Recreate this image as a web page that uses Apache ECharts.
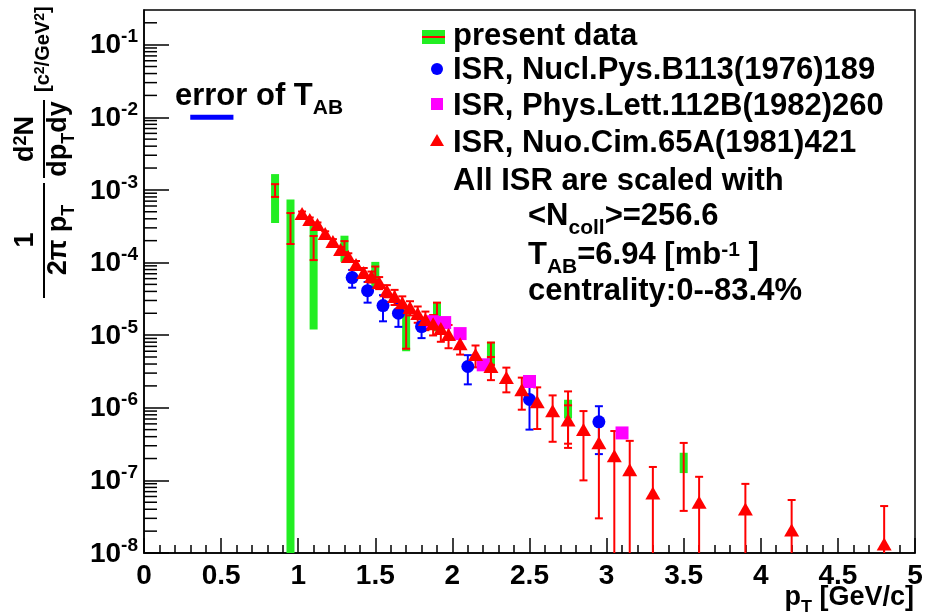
<!DOCTYPE html>
<html>
<head>
<meta charset="utf-8">
<title>pT spectra</title>
<script src="https://cdn.jsdelivr.net/npm/echarts@6.0.0/dist/echarts.min.js"></script>
<style>
  html, body { margin: 0; padding: 0; background: #fff; }
  #chart { width: 932px; height: 612px; }
</style>
</head>
<body>
<div id="chart"></div>
<script>
// ---- data ----
// present data: stat error (red bar) and syst error (green box)
var presentX    = [0.85, 0.95, 1.10, 1.30, 1.50, 1.70, 1.90, 2.25, 2.75, 3.50];
var presentY    = [1.0e-3, 3.3e-4, 1.7e-4, 1.68e-4, 7.3e-5, 1.5e-5, 2.0e-5, 5.9e-6, 1.0e-6, 1.83e-7];
var presentStat = [2.0e-4, 1.5e-4, 6.2e-5, 2.9e-5, 1.5e-5, 8.5e-6, 8.0e-6, 2.0e-6, 6.8e-7, 1.45e-7];
var presentSys  = [6.5e-4, 4.1e-4, 1.58e-4, 6.6e-5, 2.9e-5, 9.0e-6, 8.7e-6, 2.2e-6, 2.9e-7, 5.7e-8];

// ISR, Nucl.Pys.B113(1976)189
var nplX   = [1.35, 1.45, 1.55, 1.65, 1.80, 2.10, 2.50, 2.95];
var nplY   = [6.2e-5, 4.1e-5, 2.55e-5, 2.0e-5, 1.31e-5, 3.7e-6, 1.3e-6, 6.4e-7];
var nplErr = [1.7e-5, 1.3e-5, 1.0e-5, 7.0e-6, 4.0e-6, 1.6e-6, 8.0e-7, 4.1e-7];

// ISR, Phys.Lett.112B(1982)260
var plbX = [1.87, 1.95, 2.05, 2.20, 2.50, 3.10];
var plbY = [1.53e-5, 1.49e-5, 1.05e-5, 3.9e-6, 2.3e-6, 4.5e-7];

// ISR, Nuo.Cim.65A(1981)421
var ncX = [1.025, 1.075, 1.125, 1.175, 1.225, 1.275, 1.325, 1.375, 1.425, 1.475,
           1.525, 1.575, 1.625, 1.675, 1.725, 1.775, 1.825, 1.875, 1.925, 1.975,
           2.05, 2.15, 2.25, 2.35, 2.45, 2.55, 2.65, 2.75, 2.85, 2.95,
           3.05, 3.15, 3.30, 3.60, 3.90, 4.20, 4.80];
var ncY = [4.74e-4, 3.92e-4, 3.34e-4, 2.51e-4, 1.95e-4, 1.51e-4, 1.21e-4, 9.4e-5, 7.3e-5, 6.4e-5,
           5.3e-5, 4.1e-5, 3.4e-5, 2.8e-5, 2.4e-5, 1.98e-5, 1.64e-5, 1.44e-5, 1.23e-5, 1.02e-5,
           7.6e-6, 5.4e-6, 3.7e-6, 2.6e-6, 1.77e-6, 1.21e-6, 9.1e-7, 6.8e-7, 5.0e-7, 3.3e-7,
           2.18e-7, 1.4e-7, 6.7e-8, 5.0e-8, 4.05e-8, 2.07e-8, 1.33e-8];
var ncErr = [3.0e-5, 2.5e-5, 2.2e-5, 1.8e-5, 1.5e-5, 1.3e-5, 1.3e-5, 1.1e-5, 1.1e-5, 1.1e-5,
             1.0e-5, 7.8e-6, 8.0e-6, 6.2e-6, 5.3e-6, 5.0e-6, 4.7e-6, 4.5e-6, 4.2e-6, 3.6e-6,
             2.2e-6, 1.8e-6, 1.3e-6, 9.7e-7, 8.3e-7, 7.0e-7, 5.7e-7, 4.0e-7, 4.0e-7, 3.0e-7,
             2.6e-7, 2.1e-7, 8.6e-8, 6.2e-8, 4.9e-8, 3.3e-8, 3.1e-8];

// error of T_AB marker
var tabErrX = [0.30, 0.58];
var tabErrY = [1e-2, 1e-2];

// axes
var xMin = 0, xMax = 5, xStep = 0.5;
var yMin = 1e-8, yMax = 0.3;
var minorDecades = [-8, -7, -6, -5, -4, -3, -2, -1];
var minorSteps = [2, 3, 4, 5, 6, 7, 8, 9];

var GREEN = '#22ee22', RED = '#ff0000', BLUE = '#0000ff', MAGENTA = '#ff00ff';
var FONT = '"Liberation Sans", Arial, Helvetica, sans-serif';

var yMinorTicks = [];
minorDecades.forEach(function (d) {
  minorSteps.forEach(function (k) {
    var v = k * Math.pow(10, d);
    if (v < yMax) yMinorTicks.push([0, v]);
  });
});

function errBar(api, x, y, e, color, cap, width) {
  var hi = api.coord([x, y + e]);
  var clipped = y - e <= yMin;
  var lo = api.coord([x, clipped ? yMin : y - e]);
  var st = { stroke: color, lineWidth: width };
  var out = [
    { type: 'line', shape: { x1: hi[0], y1: hi[1], x2: lo[0], y2: lo[1] }, style: st },
    { type: 'line', shape: { x1: hi[0] - cap, y1: hi[1], x2: hi[0] + cap, y2: hi[1] }, style: st }
  ];
  if (!clipped) {
    out.push({ type: 'line', shape: { x1: lo[0] - cap, y1: lo[1], x2: lo[0] + cap, y2: lo[1] }, style: st });
  }
  return out;
}

var presentData = presentX.map(function (x, i) { return [x, presentY[i], presentStat[i], presentSys[i]]; });
var nplData = nplX.map(function (x, i) { return [x, nplY[i], nplErr[i]]; });
var plbData = plbX.map(function (x, i) { return [x, plbY[i]]; });
var ncData = ncX.map(function (x, i) { return [x, ncY[i], ncErr[i]]; });
var tabData = tabErrX.map(function (x, i) { return [x, tabErrY[i]]; });

var mainRich = {
  n: { fontFamily: FONT, fontWeight: 'bold', fontSize: 31, lineHeight: 34, verticalAlign: 'top', color: '#000' },
  sub: { fontFamily: FONT, fontWeight: 'bold', fontSize: 21, lineHeight: 22, verticalAlign: 'top', padding: [17, 0, 0, 0], color: '#000' },
  sup: { fontFamily: FONT, fontWeight: 'bold', fontSize: 21, lineHeight: 18, verticalAlign: 'top', color: '#000' }
};
var titleRich = {
  n: { fontFamily: FONT, fontWeight: 'bold', fontSize: 27, lineHeight: 30, verticalAlign: 'top', color: '#000' },
  sub: { fontFamily: FONT, fontWeight: 'bold', fontSize: 18, lineHeight: 18, verticalAlign: 'top', padding: [15, 0, 0, 0], color: '#000' },
  sup: { fontFamily: FONT, fontWeight: 'bold', fontSize: 18, lineHeight: 16, verticalAlign: 'top', color: '#000' }
};
var unitRich = {
  n: { fontFamily: FONT, fontWeight: 'bold', fontSize: 20, lineHeight: 24, verticalAlign: 'top', color: '#000' },
  sup: { fontFamily: FONT, fontWeight: 'bold', fontSize: 14, lineHeight: 12, verticalAlign: 'top', color: '#000' }
};

function label(x, y, text, rich, align) {
  return { type: 'text', x: x, y: y, silent: true,
    style: { text: text, rich: rich, align: align || 'left', verticalAlign: 'top' } };
}

var chart = echarts.init(document.getElementById('chart'), null, { renderer: 'canvas' });

var option = {
  animation: false,
  backgroundColor: '#fff',
  grid: { left: 144, right: 17, top: 10, bottom: 59, show: true, borderColor: '#000', borderWidth: 1.5, backgroundColor: 'transparent' },
  xAxis: {
    type: 'value', min: xMin, max: xMax, interval: xStep,
    axisLine: { lineStyle: { color: '#000', width: 1.5 } },
    axisTick: { inside: true, length: 15, lineStyle: { color: '#000', width: 1.5 } },
    minorTick: { show: true, splitNumber: 5, length: 8, lineStyle: { color: '#000', width: 1.5 } },
    splitLine: { show: false },
    axisLabel: { color: '#000', fontFamily: FONT, fontWeight: 'bold', fontSize: 28, margin: 9 }
  },
  yAxis: {
    type: 'log', logBase: 10, min: yMin, max: yMax,
    axisLine: { lineStyle: { color: '#000', width: 1.5 } },
    axisTick: { inside: true, length: 25, lineStyle: { color: '#000', width: 1.5 } },
    splitLine: { show: false },
    axisLabel: {
      showMaxLabel: false,
      margin: 6,
      formatter: function (v) {
        var p = Math.round(Math.log(v) / Math.LN10);
        return '{b|10}{s|' + p + '}';
      },
      rich: {
        b: { fontFamily: FONT, fontWeight: 'bold', fontSize: 28, lineHeight: 34, verticalAlign: 'top', padding: [4, 0, 0, 0], color: '#000' },
        s: { fontFamily: FONT, fontWeight: 'bold', fontSize: 19, lineHeight: 20, verticalAlign: 'top', color: '#000' }
      }
    }
  },
  series: [
    {
      // minor ticks 2..9 of every decade on the log axis
      type: 'custom', silent: true, data: yMinorTicks,
      renderItem: function (params, api) {
        var p = api.coord([api.value(0), api.value(1)]);
        return { type: 'line', shape: { x1: p[0], y1: p[1], x2: p[0] + 13, y2: p[1] },
          style: { stroke: '#000', lineWidth: 1.5 } };
      }
    },
    {
      name: 'present data', type: 'custom', clip: true, data: presentData,
      renderItem: function (params, api) {
        var x = api.value(0), y = api.value(1), stat = api.value(2), sys = api.value(3);
        var top = api.coord([x, y + sys]);
        var bot = api.coord([x, Math.max(y - sys, yMin)]);
        var kids = [{ type: 'rect', shape: { x: top[0] - 4, y: top[1], width: 8, height: bot[1] - top[1] },
          style: { fill: GREEN } }];
        return { type: 'group', children: kids.concat(errBar(api, x, y, stat, RED, 4, 2)) };
      }
    },
    {
      name: 'npl err', type: 'custom', clip: true, data: nplData,
      renderItem: function (params, api) {
        return { type: 'group', children: errBar(api, api.value(0), api.value(1), api.value(2), BLUE, 4, 2) };
      }
    },
    {
      name: 'ISR, Nucl.Pys.B113(1976)189', type: 'scatter', data: nplData,
      symbol: 'circle', symbolSize: 13, itemStyle: { color: BLUE, opacity: 1 }
    },
    {
      name: 'ISR, Phys.Lett.112B(1982)260', type: 'scatter', data: plbData,
      symbol: 'rect', symbolSize: 13, itemStyle: { color: MAGENTA, opacity: 1 }
    },
    {
      name: 'nc err', type: 'custom', clip: true, data: ncData,
      renderItem: function (params, api) {
        return { type: 'group', children: errBar(api, api.value(0), api.value(1), api.value(2), RED, 4, 2) };
      }
    },
    {
      name: 'ISR, Nuo.Cim.65A(1981)421', type: 'scatter', data: ncData,
      symbol: 'triangle', symbolSize: [15, 13], itemStyle: { color: RED, opacity: 1 }
    },
    {
      name: 'error of TAB', type: 'line', data: tabData, symbol: 'none',
      lineStyle: { color: BLUE, width: 5 }
    }
  ],
  graphic: [
    // legend
    { type: 'rect', shape: { x: 422, y: 30, width: 23, height: 14 }, style: { fill: GREEN }, silent: true },
    { type: 'line', shape: { x1: 422, y1: 37, x2: 445, y2: 37 }, style: { stroke: RED, lineWidth: 2 }, silent: true },
    label(453, 21, '{n|present data}', mainRich),
    { type: 'circle', shape: { cx: 437, cy: 69, r: 6 }, style: { fill: BLUE }, silent: true },
    label(453, 55, '{n|ISR, Nucl.Pys.B113(1976)189}', mainRich),
    { type: 'rect', shape: { x: 431, y: 98, width: 12, height: 12 }, style: { fill: MAGENTA }, silent: true },
    label(453, 91, '{n|ISR, Phys.Lett.112B(1982)260}', mainRich),
    { type: 'polygon', shape: { points: [[437, 134], [444, 146], [430, 146]] }, style: { fill: RED }, silent: true },
    label(453, 128, '{n|ISR, Nuo.Cim.65A(1981)421}', mainRich),
    label(453, 166, '{n|All ISR are scaled with}', mainRich),
    label(528, 201, '{n|<N}{sub|coll}{n|>=256.6}', mainRich),
    label(528, 240, '{n|T}{sub|AB}{n|=6.94 [mb}{sup|-1}{n| ]}', mainRich),
    label(528, 276, '{n|centrality:0--83.4%}', mainRich),
    // error of T_AB
    label(175, 81, '{n|error of T}{sub|AB}', mainRich),
    // x axis title
    label(914, 584, '{n|p}{sub|T}{n| [GeV/c]}', titleRich, 'right'),
    // y axis title, rotated to read bottom-up
    {
      type: 'group', x: 44, y: 300, rotation: Math.PI / 2, silent: true,
      children: [
        { type: 'line', shape: { x1: 2, y1: 0, x2: 117, y2: 0 }, style: { stroke: '#000', lineWidth: 2 } },
        { type: 'text', x: 60, y: -2, style: { text: '{n|1}', rich: titleRich, align: 'center', verticalAlign: 'bottom' } },
        { type: 'text', x: 60, y: 1, style: { text: '{n|2π p}{sub|T}', rich: titleRich, align: 'center', verticalAlign: 'top' } },
        { type: 'line', shape: { x1: 122, y1: 0, x2: 200, y2: 0 }, style: { stroke: '#000', lineWidth: 2 } },
        { type: 'text', x: 161, y: -2, style: { text: '{n|d}{sup|2}{n|N}', rich: titleRich, align: 'center', verticalAlign: 'bottom' } },
        { type: 'text', x: 161, y: 1, style: { text: '{n|dp}{sub|T}{n|dy}', rich: titleRich, align: 'center', verticalAlign: 'top' } },
        { type: 'text', x: 208, y: -11, style: { text: '{n|[c}{sup|2}{n|/GeV}{sup|2}{n|]}', rich: unitRich, align: 'left', verticalAlign: 'top' } }
      ]
    }
  ]
};

chart.setOption(option);
</script>
</body>
</html>
